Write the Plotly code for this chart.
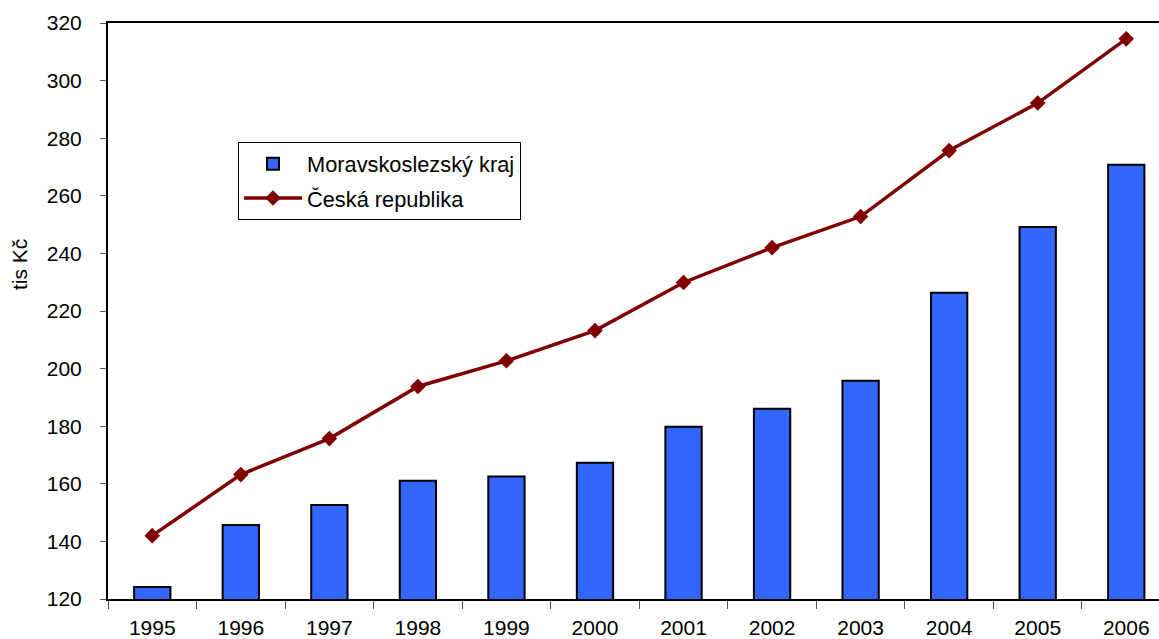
import plotly.graph_objects as go

years = ["1995", "1996", "1997", "1998", "1999", "2000", "2001", "2002", "2003", "2004", "2005", "2006"]
msk = [124.2, 145.7, 152.6, 161.1, 162.5, 167.3, 179.8, 186.1, 195.8, 226.3, 249.2, 270.8]
cr = [142.0, 163.2, 175.7, 193.8, 202.7, 213.2, 229.9, 242.0, 252.8, 275.7, 292.2, 314.5]
y_ticks = [120, 140, 160, 180, 200, 220, 240, 260, 280, 300, 320]

FONT = "Liberation Sans, Arial, sans-serif"

fig = go.Figure()
fig.add_trace(go.Bar(
    x=years, y=msk, name="Moravskoslezský kraj",
    marker=dict(color="#3366FF", line=dict(color="black", width=2)),
    width=0.41, legendgroup="a",
))
fig.add_trace(go.Scatter(
    x=years, y=cr, name="Česká republika", mode="lines+markers",
    line=dict(color="#800000", width=3.5),
    marker=dict(symbol="diamond", size=12, color="#800000"),
    legendgroup="b",
))

fig.update_layout(
    width=1159, height=639,
    margin=dict(l=108, r=0, t=23, b=40, autoexpand=False),
    paper_bgcolor="white", plot_bgcolor="white",
    font=dict(family=FONT, size=21, color="black"),
    showlegend=True,
    legend=dict(
        x=(238 - 108) / 1051, y=(599 - 142) / 576, xanchor="left", yanchor="top",
        bordercolor="black", borderwidth=1, bgcolor="white",
        font=dict(family=FONT, size=21.8, color="black"),
        tracegroupgap=3, itemwidth=58,
    ),
    annotations=[dict(
        text="tis Kč", textangle=-90, xref="paper", yref="paper",
        x=(19 - 108) / 1051, y=(599 - 265) / 576, xanchor="center", yanchor="middle",
        showarrow=False, font=dict(family=FONT, size=21, color="black"),
    )],
)
fig.update_xaxes(
    type="category", range=[-0.5, 11.37], automargin=False,
    showline=True, linecolor="black", linewidth=2, mirror=True,
    ticks="outside", tickson="boundaries", ticklen=8, tickcolor="#555555",
    showgrid=False, zeroline=False, ticklabelstandoff=9,
)
fig.update_yaxes(
    range=[120, 320], tickvals=y_ticks, automargin=False,
    showline=True, linecolor="black", linewidth=2,
    ticks="outside", ticklen=6, tickcolor="#555555",
    showgrid=False, zeroline=False, ticklabelstandoff=14,
)

fig.write_html(
    "out.html",
    config={"displayModeBar": False},
    post_script="document.body.style.margin='0';document.body.style.overflow='hidden';",
)
